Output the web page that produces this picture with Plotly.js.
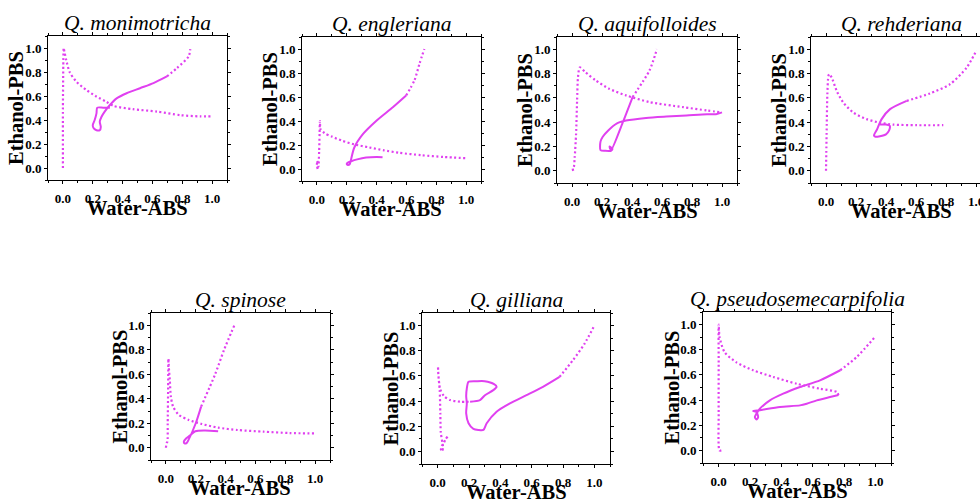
<!DOCTYPE html>
<html>
<head>
<meta charset="utf-8">
<script src="https://cdn.plot.ly/plotly-3.0.1.min.js"></script>
<style>
html,body{margin:0;padding:0;overflow:hidden;background:#fff;}
#chart{width:1000px;height:500px;}
</style>
</head>
<body>
<div id="chart"></div>
<script>
// ---------- data ----------
const panelTitles = ["Q. monimotricha","Q. engleriana","Q. aquifolloides","Q. rehderiana","Q. spinose","Q. gilliana","Q. pseudosemecarpifolia"];
const xAxisLabel = "Water-ABS";
const yAxisLabel = "Ethanol-PBS";
const tickValues = [0, 0.2, 0.4, 0.6, 0.8, 1.0];
const tickLabels = ["0.0", "0.2", "0.4", "0.6", "0.8", "1.0"];

// Q. monimotricha
const mon_dot_x = [0.0, 0.0, 0.003, 0.005, 0.01, 0.022, 0.045, 0.09, 0.157, 0.225, 0.29, 0.34, 0.47, 0.63, 0.79, 0.92, 1.0];
const mon_dot_y = [0.0, 0.5, 0.9, 1.0, 0.97, 0.9, 0.8, 0.72, 0.65, 0.595, 0.553, 0.517, 0.49, 0.47, 0.44, 0.43, 0.43];
const mon_solid_x = [0.315, 0.27, 0.23, 0.225, 0.213, 0.20, 0.207, 0.225, 0.247, 0.254, 0.247, 0.258, 0.28, 0.315, 0.36, 0.427, 0.517, 0.607, 0.697];
const mon_solid_y = [0.503, 0.503, 0.503, 0.455, 0.40, 0.357, 0.33, 0.315, 0.315, 0.343, 0.385, 0.425, 0.47, 0.525, 0.58, 0.623, 0.665, 0.707, 0.763];
const mon_tail_x = [0.697, 0.764, 0.843, 0.854];
const mon_tail_y = [0.763, 0.832, 0.93, 0.99];

// Q. engleriana
const eng_dot_x = [0.005, 0.0, 0.003, 0.01, 0.015, 0.018, 0.02, 0.025, 0.05, 0.1, 0.17, 0.25, 0.35, 0.45, 0.55, 0.7, 0.85, 1.0];
const eng_dot_y = [0.0, 0.03, 0.07, 0.02, 0.15, 0.30, 0.40, 0.33, 0.30, 0.27, 0.235, 0.205, 0.18, 0.155, 0.135, 0.115, 0.1, 0.09];
const eng_solid_x = [0.44, 0.40, 0.33, 0.27, 0.23, 0.21, 0.20, 0.205, 0.22, 0.225, 0.25, 0.308, 0.397, 0.509, 0.598];
const eng_solid_y = [0.098, 0.10, 0.095, 0.08, 0.065, 0.055, 0.045, 0.035, 0.04, 0.06, 0.177, 0.29, 0.40, 0.514, 0.612];
const eng_tail_x = [0.598, 0.654, 0.688, 0.72];
const eng_tail_y = [0.612, 0.739, 0.879, 1.0];

// Q. aquifolloides
const aqu_dot_x = [0.008, 0.005, 0.012, 0.018, 0.027, 0.034, 0.04, 0.052, 0.09, 0.157, 0.247, 0.36, 0.517, 0.742, 0.9, 1.0];
const aqu_dot_y = [0.0, 0.02, 0.03, 0.11, 0.30, 0.58, 0.77, 0.85, 0.81, 0.744, 0.675, 0.62, 0.565, 0.523, 0.496, 0.48];
const aqu_solid_x = [1.0, 0.96, 0.9, 0.764, 0.629, 0.494, 0.36, 0.30, 0.24, 0.205, 0.19, 0.19, 0.22, 0.26, 0.27, 0.25, 0.26, 0.336, 0.404];
const aqu_solid_y = [0.48, 0.465, 0.465, 0.455, 0.446, 0.435, 0.413, 0.39, 0.33, 0.28, 0.24, 0.17, 0.165, 0.165, 0.18, 0.2, 0.17, 0.39, 0.606];
const aqu_tail_x = [0.404, 0.517, 0.566];
const aqu_tail_y = [0.606, 0.826, 1.0];

// Q. rehderiana
const reh_dot_x = [0.0, 0.002, 0.004, 0.009, 0.016, 0.022, 0.038, 0.071, 0.116, 0.182, 0.271, 0.36, 0.449, 0.604, 0.782];
const reh_dot_y = [0.0, 0.15, 0.30, 0.63, 0.78, 0.795, 0.767, 0.658, 0.56, 0.479, 0.425, 0.395, 0.38, 0.375, 0.375];
const reh_solid_x = [0.36, 0.40, 0.425, 0.42, 0.40, 0.36, 0.33, 0.32, 0.34, 0.371, 0.427, 0.538];
const reh_solid_y = [0.38, 0.38, 0.37, 0.33, 0.30, 0.285, 0.28, 0.29, 0.34, 0.425, 0.507, 0.575];
const reh_tail_x = [0.538, 0.693, 0.827, 0.938, 1.004];
const reh_tail_y = [0.575, 0.636, 0.712, 0.849, 0.992];

// Q. spinose
const spi_dot_x = [0.0, 0.005, 0.01, 0.012, 0.015, 0.017, 0.02, 0.026, 0.033, 0.048, 0.087, 0.153, 0.24, 0.35, 0.48, 0.655, 0.83, 1.0];
const spi_dot_y = [0.0, 0.04, 0.05, 0.2, 0.5, 0.727, 0.65, 0.555, 0.418, 0.336, 0.268, 0.227, 0.194, 0.164, 0.145, 0.131, 0.12, 0.117];
const spi_solid_x = [0.35, 0.262, 0.197, 0.16, 0.135, 0.12, 0.125, 0.14, 0.15, 0.2, 0.236];
const spi_solid_y = [0.135, 0.14, 0.135, 0.1, 0.075, 0.05, 0.035, 0.04, 0.06, 0.2, 0.336];
const spi_tail_x = [0.236, 0.33, 0.39, 0.459];
const spi_tail_y = [0.336, 0.6, 0.8, 1.0];

// Q. gilliana
const gil_dot_x = [0.063, 0.05, 0.038, 0.025, 0.021, 0.027, 0.035, 0.03, 0.02, 0.017, 0.013, 0.004, 0.002, 0.005, 0.015, 0.04, 0.08, 0.144, 0.207];
const gil_dot_y = [0.118, 0.095, 0.066, 0.04, 0.013, 0.0, 0.03, 0.07, 0.15, 0.30, 0.487, 0.618, 0.676, 0.6, 0.5, 0.44, 0.408, 0.395, 0.395];
const gil_solid_x = [0.207, 0.27, 0.302, 0.355, 0.376, 0.36, 0.30, 0.25, 0.197, 0.186, 0.182, 0.186, 0.182, 0.197, 0.228, 0.26, 0.292, 0.313, 0.376, 0.461, 0.567, 0.672, 0.778];
const gil_solid_y = [0.395, 0.408, 0.447, 0.487, 0.513, 0.535, 0.558, 0.558, 0.553, 0.5, 0.44, 0.382, 0.303, 0.224, 0.18, 0.171, 0.171, 0.224, 0.316, 0.382, 0.447, 0.513, 0.592];
const gil_tail_x = [0.778, 0.863, 0.937, 1.0];
const gil_tail_y = [0.592, 0.724, 0.855, 1.0];

// Q. pseudosemecarpifolia
const pse_dot_x = [0.017, 0.005, 0.0, 0.0, 0.0, 0.006, 0.038, 0.113, 0.22, 0.348, 0.498, 0.647, 0.754, 0.765];
const pse_dot_y = [0.0, 0.0, 0.3, 0.7, 1.0, 0.9, 0.78, 0.70, 0.637, 0.584, 0.53, 0.49, 0.464, 0.44];
const pse_solid_x = [0.765, 0.711, 0.626, 0.562, 0.519, 0.391, 0.263, 0.22, 0.241, 0.252, 0.241, 0.231, 0.25, 0.263, 0.327, 0.412, 0.519, 0.647, 0.776];
const pse_solid_y = [0.44, 0.424, 0.398, 0.371, 0.358, 0.345, 0.32, 0.313, 0.305, 0.265, 0.245, 0.265, 0.31, 0.332, 0.398, 0.451, 0.504, 0.557, 0.637];
const pse_tail_x = [0.776, 0.882, 1.0];
const pse_tail_y = [0.637, 0.743, 0.905];

// ---------- figure ----------
const COLOR = '#E040F0';
const FONT = 'Liberation Serif, Times New Roman, serif';

const series = [
  [mon_dot_x, mon_dot_y, mon_solid_x, mon_solid_y, mon_tail_x, mon_tail_y],
  [eng_dot_x, eng_dot_y, eng_solid_x, eng_solid_y, eng_tail_x, eng_tail_y],
  [aqu_dot_x, aqu_dot_y, aqu_solid_x, aqu_solid_y, aqu_tail_x, aqu_tail_y],
  [reh_dot_x, reh_dot_y, reh_solid_x, reh_solid_y, reh_tail_x, reh_tail_y],
  [spi_dot_x, spi_dot_y, spi_solid_x, spi_solid_y, spi_tail_x, spi_tail_y],
  [gil_dot_x, gil_dot_y, gil_solid_x, gil_solid_y, gil_tail_x, gil_tail_y],
  [pse_dot_x, pse_dot_y, pse_solid_x, pse_solid_y, pse_tail_x, pse_tail_y]
];

// plot boxes in pixels: [left, right, top, bottom]
const W = 1000, H = 500;
const boxes = [
  [48, 227, 36, 180],
  [302, 481, 37, 181],
  [557, 737, 37, 183],
  [811, 991, 37, 183],
  [151, 330, 313, 460],
  [422, 610, 313, 464],
  [703, 891, 312, 463]
];

const traces = [];
const layout = {
  width: W, height: H,
  margin: {l: 0, r: 0, t: 0, b: 0},
  paper_bgcolor: '#fff', plot_bgcolor: '#fff',
  showlegend: false,
  annotations: []
};

const boldTicks = tickLabels.map(t => '<b>' + t + '</b>');

boxes.forEach((b, i) => {
  const n = i + 1;
  const xa = 'x' + (n === 1 ? '' : n), ya = 'y' + (n === 1 ? '' : n);
  const s = series[i];
  const dotLine = {color: COLOR, width: 2.2, dash: '2px,2.5px', shape: 'spline', smoothing: 0.7};
  const solidLine = {color: COLOR, width: 2, shape: 'spline', smoothing: 0.7};
  traces.push({x: s[0], y: s[1], xaxis: xa, yaxis: ya, type: 'scatter', mode: 'lines', line: dotLine, hoverinfo: 'skip'});
  traces.push({x: s[2], y: s[3], xaxis: xa, yaxis: ya, type: 'scatter', mode: 'lines', line: solidLine, hoverinfo: 'skip'});
  traces.push({x: s[4], y: s[5], xaxis: xa, yaxis: ya, type: 'scatter', mode: 'lines', line: dotLine, hoverinfo: 'skip'});

  const axCommon = {
    range: [-0.1, 1.1], tickmode: 'array', tickvals: tickValues, ticktext: boldTicks,
    showgrid: false, zeroline: false, showline: true, linecolor: '#000', linewidth: 1,
    mirror: 'ticks', ticks: 'outside', ticklen: 3, tickcolor: '#000',
    minor: {dtick: 0.1, tick0: 0, ticks: 'outside', ticklen: 2, tickcolor: '#000'},
    tickfont: {family: FONT, size: 13, color: '#000'}
  };
  layout['xaxis' + (n === 1 ? '' : n)] = Object.assign({}, axCommon, {
    domain: [b[0] / W, b[1] / W], anchor: ya, ticklabelstandoff: 3
  });
  layout['yaxis' + (n === 1 ? '' : n)] = Object.assign({}, axCommon, {
    domain: [1 - b[3] / H, 1 - b[2] / H], anchor: xa
  });

  const cx = (b[0] + b[1]) / 2;
  const cy = (b[2] + b[3]) / 2;
  // panel title
  layout.annotations.push({
    text: '<i>' + panelTitles[i] + '</i>', xref: 'paper', yref: 'paper',
    x: cx / W, y: 1 - (b[2] - 13) / H, xanchor: 'center', yanchor: 'middle', showarrow: false,
    font: {family: FONT, size: 21.5, color: '#000'}
  });
  // x axis title
  layout.annotations.push({
    text: '<b>' + xAxisLabel + '</b>', xref: 'paper', yref: 'paper',
    x: cx / W, y: 1 - (b[3] + 28) / H, xanchor: 'center', yanchor: 'middle', showarrow: false,
    font: {family: FONT, size: 20.5, color: '#000'}
  });
  // y axis title
  layout.annotations.push({
    text: '<b>' + yAxisLabel + '</b>', xref: 'paper', yref: 'paper', textangle: -90,
    x: (b[0] - 32) / W, y: 1 - cy / H, xanchor: 'center', yanchor: 'middle', showarrow: false,
    font: {family: FONT, size: 20.5, color: '#000'}
  });
});

Plotly.newPlot('chart', traces, layout, {staticPlot: true, displayModeBar: false});
</script>
</body>
</html>
